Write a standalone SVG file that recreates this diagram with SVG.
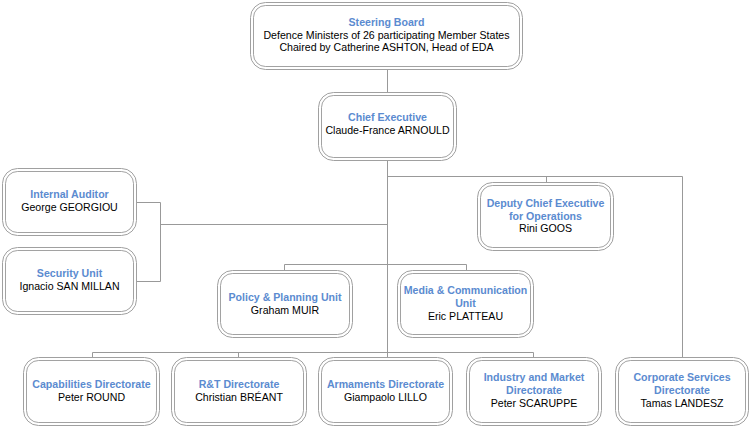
<svg xmlns="http://www.w3.org/2000/svg" width="750" height="427" viewBox="0 0 750 427">
<style>
.o{fill:#fff;stroke:#a0a0a0;stroke-width:1}
.i{fill:#fff;stroke:#8a8a8a;stroke-width:0.8}
.t{font-family:"Liberation Sans",Arial,sans-serif;font-size:10.6px;font-weight:bold;fill:#5b8bd0;text-anchor:middle}
.n{font-family:"Liberation Sans",Arial,sans-serif;font-size:10.6px;fill:#000;text-anchor:middle}
.c{fill:none;stroke:#999;stroke-width:1}
</style>
<rect width="750" height="427" fill="#fff"/>
<g id="connectors">
<path class="c" d="M387.5,70V92M387.5,161V357M387.5,176.5H682.5V357M546.5,176.5V182M387.5,224.5H160.5M160.5,202.5V281.5M137,202.5H160.5M137,281.5H160.5M284.5,264.5H466.5M284.5,264.5V270M466.5,264.5V270M92.5,352.5H533.5M92.5,352.5V357M238.5,352.5V357M533.5,352.5V357"/>
</g>
<g id="steering">
<rect class="o" x="250.5" y="2.5" width="272" height="67" rx="15"/>
<rect class="i" x="253.5" y="5.5" width="266" height="61" rx="12"/>
<text class="t" x="386.5" y="26">Steering Board</text>
<text class="n" x="386.5" y="38.5">Defence Ministers of 26 participating Member States</text>
<text class="n" x="386.5" y="51">Chaired by Catherine ASHTON, Head of EDA</text>
</g>
<g id="chief">
<rect class="o" x="318.5" y="92.5" width="138" height="68" rx="15"/>
<rect class="i" x="321.5" y="95.5" width="132" height="62" rx="12"/>
<text class="t" x="387.5" y="121">Chief Executive</text>
<text class="n" x="387.5" y="134">Claude-France ARNOULD</text>
</g>
<g id="auditor">
<rect class="o" x="2.5" y="168.5" width="134" height="67" rx="15"/>
<rect class="i" x="5.5" y="171.5" width="128" height="61" rx="12"/>
<text class="t" x="69.5" y="198">Internal Auditor</text>
<text class="n" x="69.5" y="210.5">George GEORGIOU</text>
</g>
<g id="security">
<rect class="o" x="2.5" y="247.5" width="134" height="67" rx="15"/>
<rect class="i" x="5.5" y="250.5" width="128" height="61" rx="12"/>
<text class="t" x="69.5" y="277">Security Unit</text>
<text class="n" x="69.5" y="289.5">Ignacio SAN MILLAN</text>
</g>
<g id="deputy">
<rect class="o" x="477.5" y="182.5" width="136" height="68" rx="15"/>
<rect class="i" x="480.5" y="185.5" width="130" height="62" rx="12"/>
<text class="t" x="545.5" y="207">Deputy Chief Executive</text>
<text class="t" x="545.5" y="219.5">for Operations</text>
<text class="n" x="545.5" y="232">Rini GOOS</text>
</g>
<g id="policy">
<rect class="o" x="217.5" y="270.5" width="135" height="67" rx="15"/>
<rect class="i" x="220.5" y="273.5" width="129" height="61" rx="12"/>
<text class="t" x="285" y="301">Policy &amp; Planning Unit</text>
<text class="n" x="285" y="313.5">Graham MUIR</text>
</g>
<g id="media">
<rect class="o" x="397.5" y="270.5" width="136" height="67" rx="15"/>
<rect class="i" x="400.5" y="273.5" width="130" height="61" rx="12"/>
<text class="t" x="465.5" y="294">Media &amp; Communication</text>
<text class="t" x="465.5" y="306.5">Unit</text>
<text class="n" x="465.5" y="319.5">Eric PLATTEAU</text>
</g>
<g id="capabilities">
<rect class="o" x="23.5" y="357.5" width="136" height="68" rx="15"/>
<rect class="i" x="26.5" y="360.5" width="130" height="62" rx="12"/>
<text class="t" x="91.5" y="388">Capabilities Directorate</text>
<text class="n" x="91.5" y="400.5">Peter ROUND</text>
</g>
<g id="rt">
<rect class="o" x="171.5" y="357.5" width="135" height="68" rx="15"/>
<rect class="i" x="174.5" y="360.5" width="129" height="62" rx="12"/>
<text class="t" x="239" y="388">R&amp;T Directorate</text>
<text class="n" x="239" y="400.5">Christian BRÉANT</text>
</g>
<g id="armaments">
<rect class="o" x="318.5" y="357.5" width="134" height="68" rx="15"/>
<rect class="i" x="321.5" y="360.5" width="128" height="62" rx="12"/>
<text class="t" x="385.5" y="388">Armaments Directorate</text>
<text class="n" x="385.5" y="400.5">Giampaolo LILLO</text>
</g>
<g id="industry">
<rect class="o" x="466.5" y="357.5" width="135" height="68" rx="15"/>
<rect class="i" x="469.5" y="360.5" width="129" height="62" rx="12"/>
<text class="t" x="534" y="381">Industry and Market</text>
<text class="t" x="534" y="393.5">Directorate</text>
<text class="n" x="534" y="406.5">Peter SCARUPPE</text>
</g>
<g id="corporate">
<rect class="o" x="615.5" y="357.5" width="133" height="68" rx="15"/>
<rect class="i" x="618.5" y="360.5" width="127" height="62" rx="12"/>
<text class="t" x="682" y="381">Corporate Services</text>
<text class="t" x="682" y="393.5">Directorate</text>
<text class="n" x="682" y="406.5">Tamas LANDESZ</text>
</g>
</svg>
